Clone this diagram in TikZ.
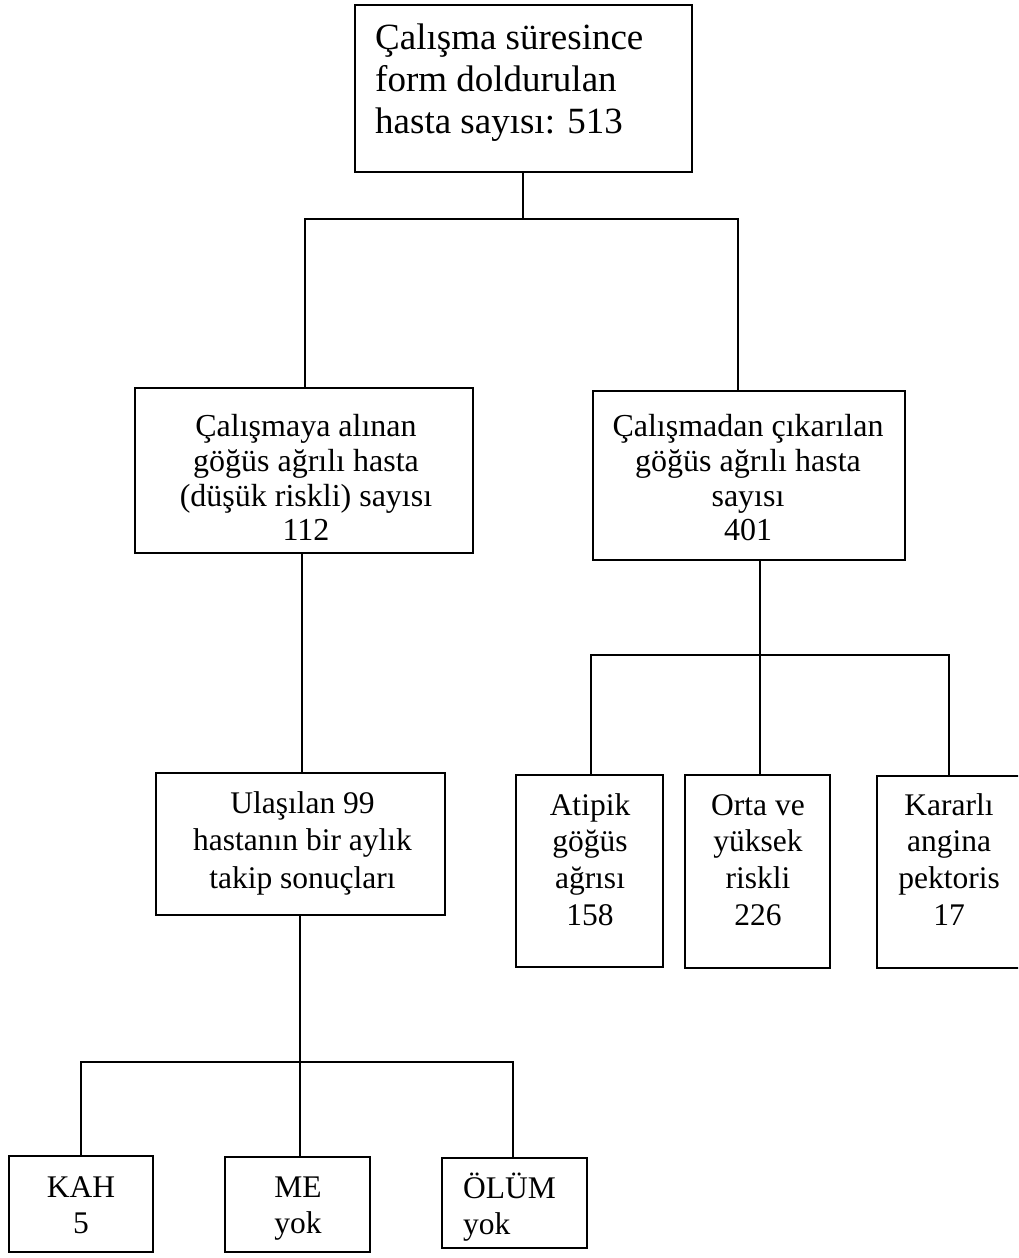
\documentclass[tikz,border=0pt]{standalone}
\usepackage{fontspec}
\setmainfont{Liberation Serif}
\begin{document}
\begin{tikzpicture}[x=1pt,y=-1pt,
  box/.style={draw, line width=1.8pt, inner sep=0pt, rectangle},
  lnk/.style={line width=1.8pt},
  txt/.style={inner sep=0pt, align=center, font=\fontsize{31.5}{36.7}\selectfont},
  ]
\useasboundingbox (0,0) rectangle (1018,1258);
\clip (0,0) rectangle (1018,1258);
% boxes
\node[box, minimum width=337pt, minimum height=167pt] (top) at (523.5,88.5) {};
\node[box, minimum width=338pt, minimum height=165pt] (L1) at (304,470.5) {};
\node[box, minimum width=312pt, minimum height=169pt] (R1) at (749,475.5) {};
\node[box, minimum width=289pt, minimum height=142pt] (U) at (300.5,844) {};
\node[box, minimum width=147pt, minimum height=192pt] (A) at (589.5,871) {};
\node[box, minimum width=145pt, minimum height=193pt] (O) at (757.5,871.5) {};
\node[box, minimum width=146pt, minimum height=192pt] (K) at (950,872) {};
\node[box, minimum width=144pt, minimum height=96pt] (KAH) at (81,1204) {};
\node[box, minimum width=145pt, minimum height=95pt] (ME) at (297.5,1204.5) {};
\node[box, minimum width=145pt, minimum height=90pt] (OL) at (514.5,1203) {};
% texts
\node[txt, align=left, anchor=west, font=\fontsize{37}{42}\selectfont] (topt) at (375,83.5)
  {\strut Çalışma süresince\\\strut form doldurulan\\\strut hasta sayısı: 513};
\node[txt, font=\fontsize{32}{34.7}\selectfont] (L1t) at (306,482)
  {\strut Çalışmaya alınan\\\strut göğüs ağrılı hasta\\\strut (düşük riskli) sayısı\\\strut 112};
\node[txt, font=\fontsize{32}{34.7}\selectfont] (R1t) at (748,482)
  {\strut Çalışmadan çıkarılan\\\strut göğüs ağrılı hasta\\\strut sayısı\\\strut 401};
\node[txt, font=\fontsize{31.5}{37.5}\selectfont] (Ut) at (302.5,843)
  {\strut Ulaşılan 99\\\strut hastanın bir aylık\\\strut takip sonuçları};
\node[txt] (At) at (590,862.7) {\strut Atipik\\\strut göğüs\\\strut ağrısı\\\strut 158};
\node[txt] (Ot) at (758,862.7) {\strut Orta ve\\\strut yüksek\\\strut riskli\\\strut 226};
\node[txt] (Kt) at (949,862.7) {\strut Kararlı\\\strut angina\\\strut pektoris\\\strut 17};
\node[txt, font=\fontsize{31.5}{36}\selectfont] (KAHt) at (81,1208) {\strut KAH\\\strut 5};
\node[txt, font=\fontsize{31.5}{36}\selectfont] (MEt) at (298,1208) {\strut ME\\\strut yok};
\node[txt, align=left, anchor=west, font=\fontsize{31.5}{36}\selectfont] (OLt) at (463,1209.5) {\strut ÖLÜM\\\strut yok};
% connectors
\coordinate (j0) at (523,219);
\coordinate (j0l) at (305,219);
\coordinate (j0r) at (738,219);
\draw[lnk] (top.south -| j0) -- (j0);
\draw[lnk] (L1.north -| j0l) |- (j0r) -- (j0r |- R1.north);
\coordinate (lu) at (302,660);
\draw[lnk] (L1.south -| lu) -- (U.north -| lu);
\coordinate (j1) at (760,655);
\coordinate (j1l) at (591,655);
\coordinate (j1r) at (949,655);
\draw[lnk] (R1.south -| j1) -- (j1);
\draw[lnk] (A.north -| j1l) |- (j1r) -- (j1r |- K.north);
\draw[lnk] (j1) -- (j1 |- O.north);
\coordinate (j2) at (300,1062);
\coordinate (j2l) at (81,1062);
\coordinate (j2r) at (513,1062);
\draw[lnk] (U.south -| j2) -- (j2);
\draw[lnk] (KAH.north -| j2l) |- (j2r) -- (j2r |- OL.north);
\draw[lnk] (j2) -- (j2 |- ME.north);
\end{tikzpicture}
\end{document}
